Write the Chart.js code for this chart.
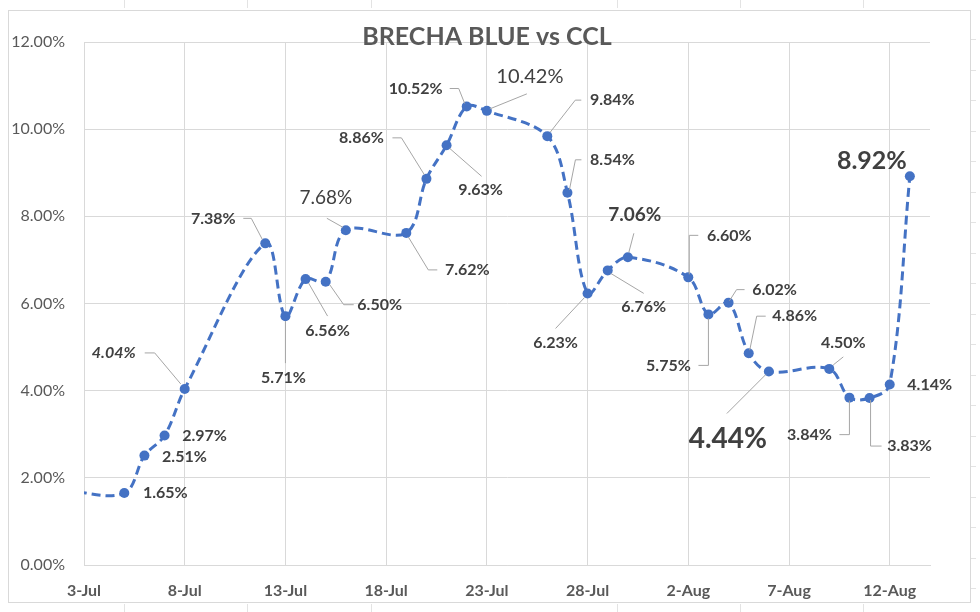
<!DOCTYPE html>
<html>
<head>
<meta charset="utf-8">
<script src="https://cdn.jsdelivr.net/npm/chart.js@4.4.1/dist/chart.umd.min.js"></script>
<style>
  html, body { margin: 0; padding: 0; background: #ffffff; }
  #wrap { width: 980px; height: 612px; position: relative; }
</style>
</head>
<body>
<div id="wrap"><canvas id="c" width="980" height="612"></canvas></div>
<script>
// ---- data ----
const chartTitle = 'BRECHA BLUE vs CCL';
const dates = ['2-Jul','5-Jul','6-Jul','7-Jul','8-Jul','12-Jul','13-Jul','14-Jul','15-Jul','16-Jul',
  '19-Jul','20-Jul','21-Jul','22-Jul','23-Jul','26-Jul','27-Jul','28-Jul','29-Jul','30-Jul',
  '2-Aug','3-Aug','4-Aug','5-Aug','6-Aug','9-Aug','10-Aug','11-Aug','12-Aug','13-Aug'];
const brecha = [1.72,1.65,2.51,2.97,4.04,7.38,5.71,6.56,6.50,7.68,
  7.62,8.86,9.63,10.52,10.42,9.84,8.54,6.23,6.76,7.06,
  6.60,5.75,6.02,4.86,4.44,4.50,3.84,3.83,4.14,8.92];
const xTickLabels = ['3-Jul','8-Jul','13-Jul','18-Jul','23-Jul','28-Jul','2-Aug','7-Aug','12-Aug'];
const yTicks = [0,2,4,6,8,10,12];

// day offset from 3-Jul
function dayIndex(s) {
  const [d, m] = s.split('-');
  const base = m === 'Jul' ? 0 : 31;
  return base + parseInt(d, 10) - 3;
}
const points = dates.map((d, i) => ({ x: dayIndex(d), y: brecha[i] }));

// ---- label layout (style config, offsets relative to the marker) ----
const labelStyle = {
  '5-Jul':  { t: [41, 0] },
  '6-Jul':  { t: [40, 1] },
  '7-Jul':  { t: [40, 0] },
  '8-Jul':  { t: [-71, -36], italic: true, lead: [[-40,-36],[-30,-36],[-4,-5]] },
  '12-Jul': { t: [-52, -25], lead: [[-22,-25],[-14,-25],[-3,-4]] },
  '13-Jul': { t: [-2, 62], lead: [[0,47],[0,5]] },
  '14-Jul': { t: [22, 52], lead: [[22,37],[3,4]] },
  '15-Jul': { t: [54, 23], lead: [[28,23],[18,23],[4,3]] },
  '16-Jul': { t: [-20, -32], size: 19, weight: 'normal', lead: [[-19,-12],[-3,-3]] },
  '19-Jul': { t: [61, 37], lead: [[31,37],[22,37],[2,4]] },
  '20-Jul': { t: [-65, -41], lead: [[-34,-41],[-25,-41],[-2,-4]] },
  '21-Jul': { t: [34, 45], lead: [[35,31],[3,3]] },
  '22-Jul': { t: [-51, -18], lead: [[-17,-18],[-8,-18],[-2,-3]] },
  '23-Jul': { t: [43, -34], size: 20, weight: 'normal', lead: [[40,-17],[3,-2]] },
  '26-Jul': { t: [65, -36], lead: [[34,-36],[28,-36],[3,-4]] },
  '27-Jul': { t: [45, -33], lead: [[14,-33],[8,-33],[2,-3]] },
  '28-Jul': { t: [-32, 49], lead: [[-32,35],[-3,4]] },
  '29-Jul': { t: [36, 36], lead: [[36,23],[3,3]] },
  '30-Jul': { t: [7, -42], size: 19, lead: [[6,-24],[1,-5]] },
  '2-Aug':  { t: [41, -42], lead: [[10,-42],[1,-42],[1,-3]] },
  '3-Aug':  { t: [-40, 51], lead: [[-10,51],[0,51],[0,4]] },
  '4-Aug':  { t: [46, -13], lead: [[16,-13],[8,-13],[1,-2]] },
  '5-Aug':  { t: [46, -37], lead: [[17,-37],[8,-37],[1,-3]] },
  '6-Aug':  { t: [-41, 67], size: 28, lead: [[-42,42],[-3,3]] },
  '9-Aug':  { t: [14, -26], lead: [[14,-12],[4,-4]] },
  '10-Aug': { t: [-40, 37], lead: [[-10,37],[0,37],[0,3]] },
  '11-Aug': { t: [40, 48], lead: [[12,48],[1,48],[1,2]] },
  '12-Aug': { t: [40, 0] },
  '13-Aug': { t: [-38, -15], size: 25 }
};

const FONT = 'Lato, "Open Sans", sans-serif';

const framePlugin = {
  id: 'frame',
  beforeDraw(chart) {
    const ctx = chart.ctx;
    ctx.save();
    ctx.fillStyle = '#ffffff';
    ctx.fillRect(0, 0, chart.width, chart.height);
    ctx.strokeStyle = '#d9d9d9';
    ctx.lineWidth = 1;
    ctx.strokeRect(8.5, 10.5, 962, 592);
    // faint marks of the surrounding sheet
    ctx.strokeStyle = '#e3e3e3';
    ctx.beginPath();
    [124, 247, 371, 617, 740, 863].forEach(x => {
      ctx.moveTo(x + 0.5, 0); ctx.lineTo(x + 0.5, 8);
      ctx.moveTo(x + 0.5, 604); ctx.lineTo(x + 0.5, 612);
    });
    for (let y = 39; y < 600; y += 30.5) {
      ctx.moveTo(971, Math.round(y) + 0.5); ctx.lineTo(976, Math.round(y) + 0.5);
    }
    ctx.stroke();
    ctx.restore();
  }
};

const labelPlugin = {
  id: 'dataLabels',
  afterDatasetsDraw(chart) {
    const ctx = chart.ctx;
    const meta = chart.getDatasetMeta(0);
    ctx.save();
    meta.data.forEach((el, i) => {
      const cfg = labelStyle[dates[i]];
      if (!cfg) return;
      const px = el.x, py = el.y;
      if (cfg.lead) {
        ctx.strokeStyle = '#a6a6a6';
        ctx.lineWidth = 1;
        ctx.beginPath();
        cfg.lead.forEach((p, k) => {
          const X = px + p[0], Y = py + p[1];
          if (k === 0) ctx.moveTo(X, Y); else ctx.lineTo(X, Y);
        });
        ctx.stroke();
      }
      const size = cfg.size || 16;
      const weight = cfg.weight || 'bold';
      ctx.font = (cfg.italic ? 'italic ' : '') + weight + ' ' + size + 'px ' + FONT;
      ctx.fillStyle = '#404040';
      ctx.textAlign = 'center';
      ctx.textBaseline = 'middle';
      ctx.fillText(brecha[i].toFixed(2) + '%', px + cfg.t[0], py + cfg.t[1]);
    });
    // title
    ctx.font = 'bold 25px ' + FONT;
    ctx.fillStyle = '#595959';
    ctx.textAlign = 'center';
    ctx.textBaseline = 'middle';
    ctx.fillText(chartTitle, 487, 37);
    ctx.restore();
  }
};

new Chart(document.getElementById('c'), {
  type: 'line',
  data: {
    datasets: [{
      data: points,
      borderColor: '#4472C4',
      backgroundColor: '#4472C4',
      borderWidth: 3,
      borderDash: [9, 5],
      pointRadius: 5,
      pointHoverRadius: 5,
      pointBackgroundColor: '#4472C4',
      pointBorderColor: '#4472C4',
      pointBorderWidth: 0,
      tension: 0.35,
      fill: false
    }]
  },
  options: {
    responsive: false,
    animation: false,
    events: [],
    elements: { line: { capBezierPoints: false } },
    layout: { padding: { left: 0, right: 50, top: 42, bottom: 0 } },
    plugins: {
      legend: { display: false },
      title: { display: false },
      tooltip: { enabled: false }
    },
    scales: {
      x: {
        type: 'linear',
        min: 0,
        max: 42,
        afterFit(s) { s.height = 47; },
        afterBuildTicks(s) { s.ticks = xTickLabels.map((l, i) => ({ value: i * 5 })); },
        ticks: {
          callback: (v) => xTickLabels[Math.round(v / 5)] || '',
          font: { family: FONT, size: 16, weight: 'bold' },
          color: '#595959',
          padding: 16,
          maxRotation: 0,
          autoSkip: false
        },
        grid: { color: '#d9d9d9', lineWidth: 1, drawTicks: false },
        border: { display: true, color: '#d9d9d9' }
      },
      y: {
        min: 0,
        max: 12,
        afterFit(s) { s.width = 84; },
        afterBuildTicks(s) { s.ticks = yTicks.map(v => ({ value: v })); },
        ticks: {
          callback: (v) => v.toFixed(2) + '%',
          font: { family: FONT, size: 16 },
          color: '#595959',
          padding: 19
        },
        grid: { color: '#d9d9d9', lineWidth: 1, drawTicks: false },
        border: { display: true, color: '#d9d9d9' }
      }
    }
  },
  plugins: [framePlugin, labelPlugin]
});
</script>
</body>
</html>
